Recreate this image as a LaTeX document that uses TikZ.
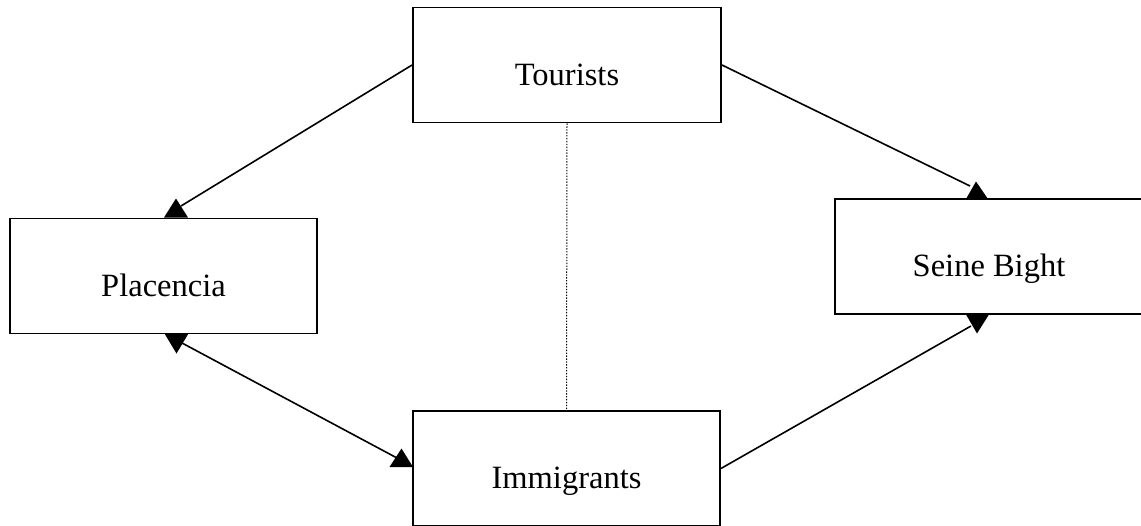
\documentclass[tikz,border=0pt]{standalone}
\usepackage{fontspec}
\setmainfont{Liberation Serif}
\begin{document}
\begin{tikzpicture}[x=1pt,y=-1pt,
  boxnode/.style={draw, line width=1.9pt, rectangle, inner sep=0pt,
    minimum width=308pt, minimum height=115pt,
    text height=50pt, text depth=10pt,
    font=\fontsize{32.5}{37}\selectfont},
  conn/.style={line width=1.6pt},
  dotconn/.style={line width=1pt, dash pattern=on 1.4pt off 1.5pt}]
\useasboundingbox (0,0) rectangle (1141,525);
\node[boxnode] (tour) at (567,65) {Tourists};
\node[boxnode, minimum width=307pt] (plac) at (163.5,276) {Placencia};
\node[boxnode] (seine) at (989,256.75) {Seine Bight};
\node[boxnode, minimum width=307pt] (imm) at (566.5,468.5) {Immigrants};
% arrow tip coordinates
\coordinate (a1) at (176,198.5);
\coordinate (a2) at (176.5,353.5);
\coordinate (a3) at (401.5,448.5);
\coordinate (a4) at (976,181.5);
\coordinate (a5) at (977,333.5);
\coordinate (e1) at (181,206);
\coordinate (e2a) at (182,343);
\coordinate (e2b) at (397,458);
\coordinate (e4) at (970,186);
\coordinate (e5) at (971,326);
% connectors
\draw[conn] (tour.west) -- (e1);
\draw[conn] (tour.east) -- (e4);
\draw[conn] (e2a) -- (e2b);
\draw[conn] (imm.east) -- (e5);
\draw[dotconn] (tour.south) -- (imm.north);
% arrowheads
\fill (a1) -- ++(-12,19) -- ++(24,0) -- cycle;
\fill (a2) -- ++(-12,-20) -- ++(24,0) -- cycle;
\fill (a3) -- ++(-12,18.5) -- ++(23.5,0) -- cycle;
\fill (a4) -- ++(-10,17.5) -- ++(22,0) -- cycle;
\fill (a5) -- ++(-11,-19) -- ++(23,0) -- cycle;
\end{tikzpicture}
\end{document}
